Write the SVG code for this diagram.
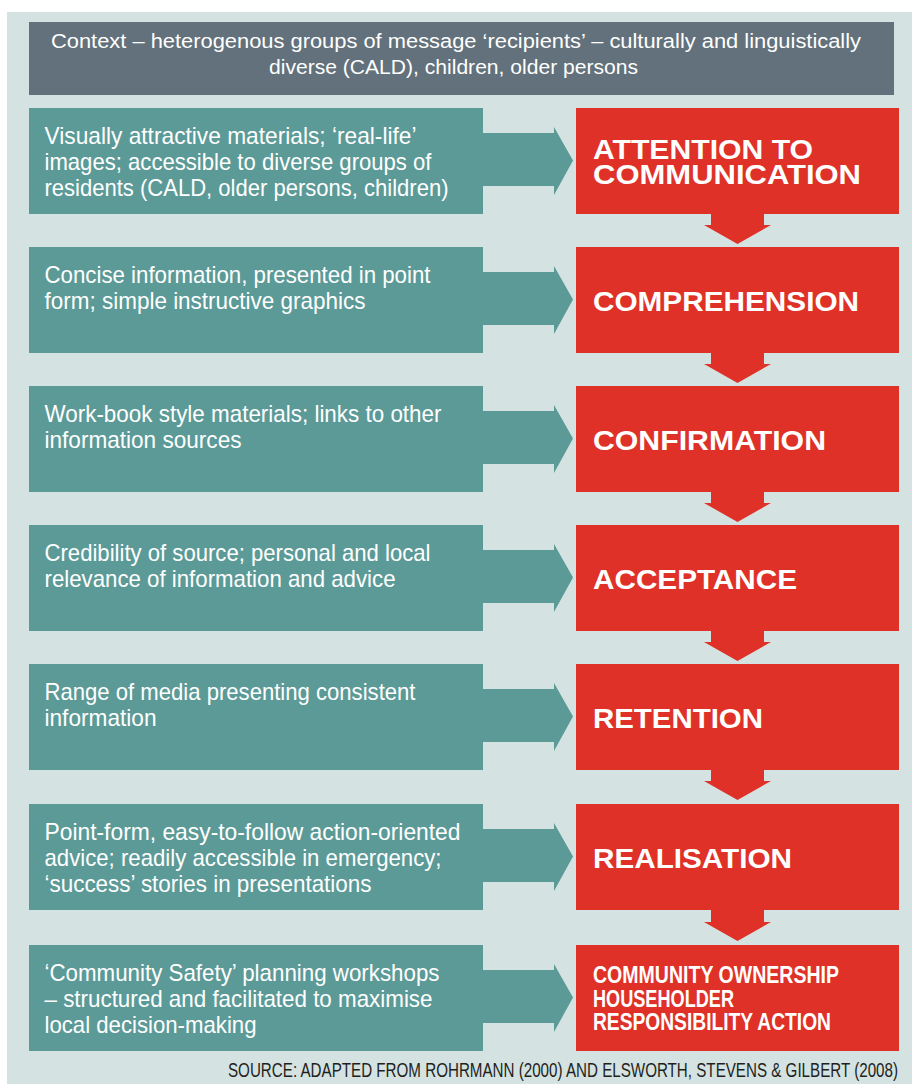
<svg xmlns="http://www.w3.org/2000/svg" width="912" height="1084" viewBox="0 0 912 1084">
  <style>
    .panel { fill: #d4e3e2; }
    .header { fill: #62717b; }
    .lever { fill: #5b9a97; }
    .stage { fill: #df3127; }
    .hdr-text { font-family: "Liberation Sans", Arial, sans-serif; font-size: 20px; fill: #ffffff; }
    .lever-text { font-family: "Liberation Sans", Arial, sans-serif; font-size: 24px; fill: #ffffff; }
    .stage-text { font-family: "Liberation Sans", Arial, sans-serif; font-size: 28px; font-weight: bold; fill: #ffffff; }
    .stage-text-sm { font-family: "Liberation Sans", Arial, sans-serif; font-size: 24px; font-weight: bold; fill: #ffffff; }
    .source { font-family: "Liberation Sans", Arial, sans-serif; font-size: 20px; fill: #231f20; }
    .flow-right { fill: #5b9a97; }
    .flow-down { fill: #df3127; }
  </style>
  <defs>
    <!-- right-pointing block arrow, origin at the top-right corner of a lever box -->
    <path id="arrow-right" d="M0,25 H71 V19 L90,52.5 L71,87 V78 H0 Z"/>
    <!-- downward block arrow, origin at the bottom edge of a stage box -->
    <path id="arrow-down" d="M711,0 H764 V12 H771 L737.5,31 L704,12 H711 Z"/>
  </defs>

  <rect width="912" height="1084" fill="#ffffff"/>
  <rect class="panel" x="7" y="12" width="905" height="1072"/>

  <g id="context">
    <rect class="header" x="29" y="22" width="865" height="73"/>
    <text class="hdr-text" x="51" y="48" textLength="810" lengthAdjust="spacingAndGlyphs">Context – heterogenous groups of message ‘recipients’ – culturally and linguistically</text>
    <text class="hdr-text" x="269" y="74" textLength="369" lengthAdjust="spacingAndGlyphs">diverse (CALD), children, older persons</text>
  </g>

  <g id="connectors">
    <use href="#arrow-right" class="flow-right" x="483" y="108"/>
    <use href="#arrow-right" class="flow-right" x="483" y="247"/>
    <use href="#arrow-right" class="flow-right" x="483" y="386"/>
    <use href="#arrow-right" class="flow-right" x="483" y="525"/>
    <use href="#arrow-right" class="flow-right" x="483" y="664"/>
    <use href="#arrow-right" class="flow-right" x="483" y="804"/>
    <use href="#arrow-right" class="flow-right" x="483" y="945"/>
    <use href="#arrow-down" class="flow-down" y="213"/>
    <use href="#arrow-down" class="flow-down" y="352"/>
    <use href="#arrow-down" class="flow-down" y="491"/>
    <use href="#arrow-down" class="flow-down" y="630"/>
    <use href="#arrow-down" class="flow-down" y="769"/>
    <use href="#arrow-down" class="flow-down" y="910"/>
  </g>

  <g id="lever-1">
    <rect class="lever" x="29" y="108" width="454" height="106"/>
    <text class="lever-text" x="44.5" y="144" textLength="372" lengthAdjust="spacingAndGlyphs">Visually attractive materials; ‘real-life’</text>
    <text class="lever-text" x="44.5" y="170" textLength="387" lengthAdjust="spacingAndGlyphs">images; accessible to diverse groups of</text>
    <text class="lever-text" x="44.5" y="196" textLength="404" lengthAdjust="spacingAndGlyphs">residents (CALD, older persons, children)</text>
  </g>
  <g id="lever-2">
    <rect class="lever" x="29" y="247" width="454" height="106"/>
    <text class="lever-text" x="44.5" y="283" textLength="386" lengthAdjust="spacingAndGlyphs">Concise information, presented in point</text>
    <text class="lever-text" x="44.5" y="309" textLength="321" lengthAdjust="spacingAndGlyphs">form; simple instructive graphics</text>
  </g>
  <g id="lever-3">
    <rect class="lever" x="29" y="386" width="454" height="106"/>
    <text class="lever-text" x="44.5" y="422" textLength="397" lengthAdjust="spacingAndGlyphs">Work-book style materials; links to other</text>
    <text class="lever-text" x="44.5" y="448" textLength="197" lengthAdjust="spacingAndGlyphs">information sources</text>
  </g>
  <g id="lever-4">
    <rect class="lever" x="29" y="525" width="454" height="106"/>
    <text class="lever-text" x="44.5" y="561" textLength="386" lengthAdjust="spacingAndGlyphs">Credibility of source; personal and local</text>
    <text class="lever-text" x="44.5" y="587" textLength="351" lengthAdjust="spacingAndGlyphs">relevance of information and advice</text>
  </g>
  <g id="lever-5">
    <rect class="lever" x="29" y="664" width="454" height="106"/>
    <text class="lever-text" x="44.5" y="700" textLength="371" lengthAdjust="spacingAndGlyphs">Range of media presenting consistent</text>
    <text class="lever-text" x="44.5" y="726" textLength="112" lengthAdjust="spacingAndGlyphs">information</text>
  </g>
  <g id="lever-6">
    <rect class="lever" x="29" y="804" width="454" height="106"/>
    <text class="lever-text" x="44.5" y="840" textLength="416" lengthAdjust="spacingAndGlyphs">Point-form, easy-to-follow action-oriented</text>
    <text class="lever-text" x="44.5" y="866" textLength="397" lengthAdjust="spacingAndGlyphs">advice; readily accessible in emergency;</text>
    <text class="lever-text" x="44.5" y="892" textLength="327" lengthAdjust="spacingAndGlyphs">‘success’ stories in presentations</text>
  </g>
  <g id="lever-7">
    <rect class="lever" x="29" y="945" width="454" height="106"/>
    <text class="lever-text" x="44.5" y="981" textLength="395" lengthAdjust="spacingAndGlyphs">‘Community Safety’ planning workshops</text>
    <text class="lever-text" x="44.5" y="1007" textLength="388" lengthAdjust="spacingAndGlyphs">– structured and facilitated to maximise</text>
    <text class="lever-text" x="44.5" y="1033" textLength="212" lengthAdjust="spacingAndGlyphs">local decision-making</text>
  </g>

  <g id="stage-attention">
    <rect class="stage" x="576" y="108" width="323" height="106"/>
    <text class="stage-text" style="font-size:27px" x="593" y="159"><tspan x="593" textLength="220" lengthAdjust="spacingAndGlyphs">ATTENTION TO</tspan><tspan x="593" dy="25" textLength="268" lengthAdjust="spacingAndGlyphs">COMMUNICATION</tspan></text>
  </g>
  <g id="stage-comprehension">
    <rect class="stage" x="576" y="247" width="323" height="106"/>
    <text class="stage-text" x="593" y="311" textLength="266" lengthAdjust="spacingAndGlyphs">COMPREHENSION</text>
  </g>
  <g id="stage-confirmation">
    <rect class="stage" x="576" y="386" width="323" height="106"/>
    <text class="stage-text" x="593" y="450" textLength="233" lengthAdjust="spacingAndGlyphs">CONFIRMATION</text>
  </g>
  <g id="stage-acceptance">
    <rect class="stage" x="576" y="525" width="323" height="106"/>
    <text class="stage-text" x="593" y="589" textLength="204" lengthAdjust="spacingAndGlyphs">ACCEPTANCE</text>
  </g>
  <g id="stage-retention">
    <rect class="stage" x="576" y="664" width="323" height="106"/>
    <text class="stage-text" x="593" y="728" textLength="170" lengthAdjust="spacingAndGlyphs">RETENTION</text>
  </g>
  <g id="stage-realisation">
    <rect class="stage" x="576" y="804" width="323" height="106"/>
    <text class="stage-text" x="593" y="868" textLength="199" lengthAdjust="spacingAndGlyphs">REALISATION</text>
  </g>
  <g id="stage-ownership">
    <rect class="stage" x="576" y="945" width="323" height="106"/>
    <text class="stage-text-sm" x="593" y="983"><tspan x="593" textLength="246" lengthAdjust="spacingAndGlyphs">COMMUNITY OWNERSHIP</tspan><tspan x="593" dy="23.5" textLength="141" lengthAdjust="spacingAndGlyphs">HOUSEHOLDER</tspan><tspan x="593" dy="23.5" textLength="238" lengthAdjust="spacingAndGlyphs">RESPONSIBILITY ACTION</tspan></text>
  </g>

  <text class="source" x="228" y="1077" textLength="670" lengthAdjust="spacingAndGlyphs">SOURCE: ADAPTED FROM ROHRMANN (2000) AND ELSWORTH, STEVENS &amp; GILBERT (2008)</text>
</svg>
